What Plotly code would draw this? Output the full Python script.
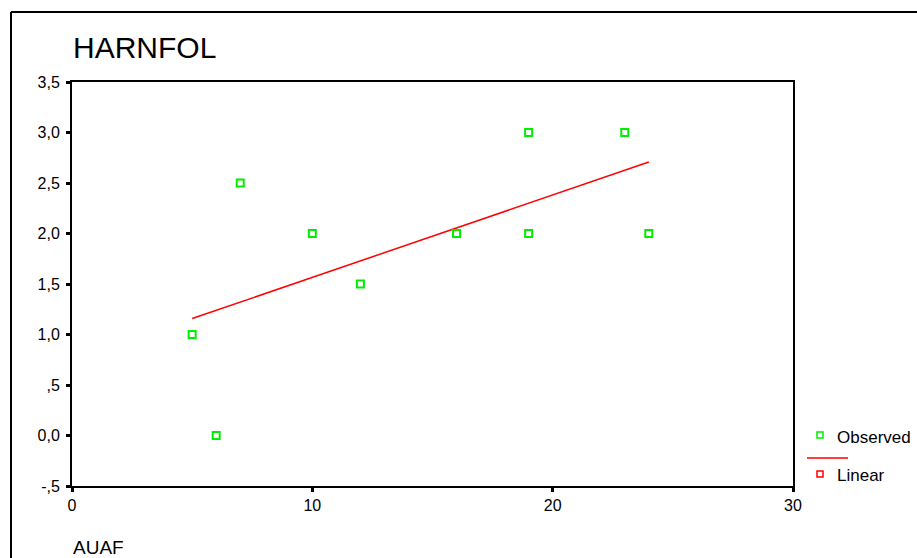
import numpy as np
import plotly.graph_objects as go

# Data
auaf = [5, 6, 7, 10, 12, 16, 19, 19, 23, 24]
harnfol = [1.0, 0.0, 2.5, 2.0, 1.5, 2.0, 3.0, 2.0, 3.0, 2.0]
y_tickvals = [-0.5, 0.0, 0.5, 1.0, 1.5, 2.0, 2.5, 3.0, 3.5]
y_ticktext = ["-,5", "0,0", ",5", "1,0", "1,5", "2,0", "2,5", "3,0", "3,5"]
x_tickvals = [0, 10, 20, 30]
x_ticktext = ["0", "10", "20", "30"]

# Linear fit
slope, intercept = np.polyfit(auaf, harnfol, 1)
xs = sorted(set(auaf))
fit = [intercept + slope * x for x in xs]

W, H = 917, 558
L, R, T, B = 72, 793, 82, 486
pw, ph = R - L, B - T

def px(x):
    return (x - L) / pw

def py(y):
    return (B - y) / ph

FONT = "Liberation Sans, Arial, sans-serif"

fig = go.Figure()
fig.add_trace(go.Scatter(x=xs, y=fit, mode="lines",
                         line=dict(color="#ff0000", width=1.5),
                         showlegend=False, hoverinfo="skip"))
fig.add_trace(go.Scatter(x=auaf, y=harnfol, mode="markers",
                         marker=dict(symbol="square-open", size=7, color="#00ee00",
                                     line=dict(width=2, color="#00ee00")),
                         showlegend=False, cliponaxis=False))

shapes = []
# outer frame (top and left lines)
shapes.append(dict(type="line", xref="paper", yref="paper",
                   x0=px(11), x1=px(925), y0=py(12), y1=py(12),
                   line=dict(color="black", width=2)))
shapes.append(dict(type="line", xref="paper", yref="paper",
                   x0=px(11), x1=px(11), y0=py(12), y1=py(565),
                   line=dict(color="black", width=2)))
# legend symbols
shapes.append(dict(type="rect", xref="paper", yref="paper",
                   x0=px(817), x1=px(823), y0=py(432), y1=py(438),
                   line=dict(color="#00ee00", width=1.5)))
shapes.append(dict(type="line", xref="paper", yref="paper",
                   x0=px(807), x1=px(848), y0=py(458), y1=py(458),
                   line=dict(color="#ff0000", width=1.5)))
shapes.append(dict(type="rect", xref="paper", yref="paper",
                   x0=px(817), x1=px(823), y0=py(471), y1=py(477),
                   line=dict(color="#ff0000", width=1.5)))

annotations = [
    dict(text="HARNFOL", xref="paper", yref="paper", x=px(71), y=py(48),
         xanchor="left", yanchor="middle", showarrow=False,
         font=dict(family=FONT, size=30, color="black")),
    dict(text="AUAF", xref="paper", yref="paper", x=px(71), y=py(547),
         xanchor="left", yanchor="middle", showarrow=False,
         font=dict(family=FONT, size=19, color="black")),
    dict(text="Observed", xref="paper", yref="paper", x=px(835), y=py(437),
         xanchor="left", yanchor="middle", showarrow=False,
         font=dict(family=FONT, size=17, color="black")),
    dict(text="Linear", xref="paper", yref="paper", x=px(835), y=py(475),
         xanchor="left", yanchor="middle", showarrow=False,
         font=dict(family=FONT, size=17, color="black")),
]

fig.update_layout(
    width=W, height=H,
    margin=dict(l=L, r=W - R, t=T, b=H - B, pad=0),
    paper_bgcolor="white", plot_bgcolor="white",
    showlegend=False,
    shapes=shapes, annotations=annotations,
    font=dict(family=FONT, size=16, color="black"),
)
fig.update_xaxes(range=[0, 30], tickvals=x_tickvals, ticktext=x_ticktext,
                 showgrid=False, zeroline=False, showline=True, linecolor="black",
                 linewidth=2, mirror=True, ticks="outside", ticklen=4, tickwidth=3,
                 tickcolor="black", tickfont=dict(family=FONT, size=16))
fig.update_yaxes(range=[-0.5, 3.5], tickvals=y_tickvals, ticktext=y_ticktext,
                 showgrid=False, zeroline=False, showline=True, linecolor="black",
                 linewidth=2, mirror=True, ticks="outside", ticklen=4, tickwidth=3,
                 tickcolor="black", tickfont=dict(family=FONT, size=16),
                 ticklabelstandoff=3)

fig.write_html("out.html")
